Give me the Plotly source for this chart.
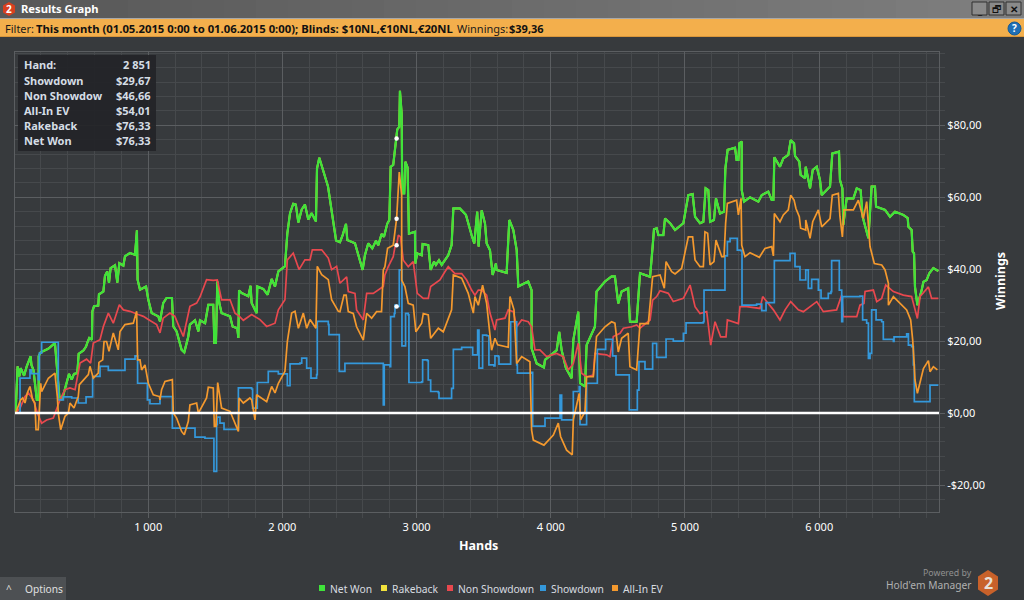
import plotly.graph_objects as go

# values: hands, dollars
net_won_hands = [12, 27, 40, 50, 75, 95, 124, 130, 145, 160, 170, 184, 184, 199, 256, 305, 318, 338, 358, 380, 410, 430, 447, 472, 482, 517, 537, 546, 561, 581, 584, 596, 628, 633, 666, 678, 695, 708, 720, 753, 770, 785, 815, 827, 864, 902, 916, 921, 939, 984, 1001, 1026, 1075, 1088, 1112, 1137, 1177, 1187, 1212, 1249, 1269, 1299, 1311, 1349, 1374, 1386, 1424, 1448, 1485, 1493, 1505, 1515, 1530, 1547, 1610, 1629, 1664, 1672, 1677, 1696, 1746, 1763, 1771, 1808, 1813, 1858, 1890, 1920, 1945, 1970, 2019, 2037, 2057, 2081, 2100, 2119, 2144, 2168, 2193, 2218, 2250, 2258, 2275, 2340, 2355, 2400, 2429, 2449, 2474, 2484, 2541, 2566, 2598, 2615, 2640, 2670, 2697, 2715, 2739, 2757, 2782, 2797, 2807, 2826, 2839, 2851, 2856, 2871, 2876, 2889, 2893, 2908, 2916, 2933, 2943, 2988, 2990, 3005, 3038, 3045, 3087, 3105, 3130, 3144, 3167, 3187, 3236, 3261, 3274, 3323, 3368, 3410, 3430, 3452, 3462, 3485, 3510, 3522, 3547, 3567, 3591, 3596, 3671, 3691, 3721, 3746, 3758, 3832, 3857, 3857, 3895, 3949, 3957, 4044, 4063, 4081, 4113, 4155, 4168, 4205, 4218, 4255, 4267, 4329, 4341, 4404, 4453, 4478, 4503, 4528, 4577, 4590, 4640, 4665, 4740, 4759, 4769, 4789, 4802, 4839, 4851, 4889, 4926, 4988, 5025, 5057, 5075, 5112, 5137, 5154, 5174, 5187, 5216, 5231, 5261, 5291, 5301, 5318, 5373, 5385, 5398, 5405, 5423, 5423, 5440, 5485, 5547, 5572, 5621, 5646, 5659, 5666, 5708, 5733, 5770, 5788, 5813, 5820, 5852, 5862, 5895, 5900, 5932, 5952, 5982, 6006, 6019, 6081, 6098, 6148, 6155, 6173, 6180, 6205, 6255, 6280, 6309, 6324, 6367, 6391, 6416, 6424, 6491, 6528, 6565, 6627, 6660, 6665, 6689, 6697, 6707, 6714, 6732, 6764, 6777, 6801, 6821, 6851, 6888]
net_won_usd = [0, 13, 10.2, 12.5, 10.4, 13, 15.8, 13.4, 12, 7.4, 3.7, 3.7, 15.8, 16.9, 17.9, 19.5, 13, 4.6, 3.7, 7, 10.9, 9.3, 10.9, 11.1, 16.5, 17.4, 18.5, 19.5, 20.9, 20.4, 28.3, 29.7, 29.9, 33, 33.8, 38.2, 39.4, 36.2, 40.3, 41.1, 36.3, 41.7, 41, 43.6, 44.5, 44, 50.8, 37.1, 34.3, 35.2, 31.5, 27.8, 26.9, 25.5, 30.6, 32, 32, 24.1, 22.7, 17.6, 16.9, 21.3, 24.6, 25.8, 22.7, 25.8, 25, 30.1, 30.1, 19.5, 19.5, 36.6, 30.6, 27.8, 26.9, 24.1, 23.6, 20.9, 34.1, 33.4, 32.5, 35.4, 30.6, 27.8, 35.2, 34.5, 32.9, 37.3, 35.2, 39.4, 40.8, 50, 55.6, 58.2, 58, 53, 56.6, 58, 53.8, 55.6, 53.3, 68, 71, 63, 59, 48, 47.5, 49.5, 52.6, 48.1, 47.2, 43.9, 39.8, 43.9, 47.2, 45.8, 47.9, 46.7, 49.8, 49, 52.7, 53.7, 68.5, 69, 73.1, 76.33, 78.9, 79.6, 89.6, 83.3, 61.1, 61.1, 69.9, 68.3, 49.9, 50.4, 41.6, 44.4, 43.9, 47, 46.7, 39.8, 42.1, 41.2, 42.5, 41.2, 43.9, 46.7, 56.9, 56.9, 55.1, 49.5, 47.2, 56, 46.3, 56.4, 52.7, 47.2, 45.3, 38.4, 41.6, 39.8, 39, 53.7, 50.9, 45.3, 35.2, 36.6, 34.2, 18, 13.8, 12.7, 14.8, 17.5, 22.6, 17.5, 12.5, 9.7, 20.3, 28.2, 8.3, 7.4, 18.9, 24, 33.8, 36.6, 38, 38, 30.5, 33.8, 34.7, 25.4, 25.4, 38.9, 37.9, 46.3, 51.1, 51.4, 49.5, 49.5, 54.1, 52.8, 50.9, 52.8, 60.6, 60.9, 54.6, 52.8, 53.2, 62.5, 62, 53.2, 53.7, 59.7, 55.5, 56, 68, 73.2, 73.8, 70.4, 70.4, 75, 75.5, 62, 58.8, 60, 58.8, 60.6, 61.6, 59.3, 59.3, 71.1, 68.5, 70.8, 71.8, 75.9, 75, 71.5, 69.9, 66.2, 65.3, 68.5, 62.5, 67.6, 68.5, 64.8, 60.6, 63, 72.2, 72.7, 64.8, 62.5, 52.3, 59.7, 59.7, 62.5, 62, 54.6, 48.6, 63, 63, 57.4, 56.5, 54.6, 56, 55.1, 54.2, 51.8, 50.9, 44.9, 44.4, 35.1, 30, 34.2, 36.5, 37, 38.9, 40.3, 39.5]

non_showdown_hands = [12, 45, 82, 107, 144, 174, 206, 243, 293, 330, 343, 380, 417, 455, 492, 541, 571, 591, 641, 666, 703, 740, 785, 815, 864, 926, 964, 1001, 1063, 1088, 1112, 1162, 1199, 1224, 1262, 1311, 1361, 1386, 1435, 1485, 1515, 1547, 1610, 1647, 1680, 1709, 1771, 1833, 1883, 1945, 1970, 2019, 2037, 2081, 2124, 2168, 2206, 2223, 2293, 2342, 2367, 2404, 2429, 2479, 2491, 2541, 2553, 2603, 2628, 2677, 2715, 2752, 2764, 2789, 2826, 2839, 2851, 2864, 2880, 2901, 2938, 2975, 2988, 3005, 3050, 3087, 3105, 3174, 3211, 3236, 3286, 3336, 3373, 3410, 3435, 3460, 3485, 3522, 3547, 3584, 3596, 3659, 3683, 3721, 3746, 3783, 3832, 3857, 3882, 3919, 3969, 4044, 4093, 4131, 4168, 4205, 4230, 4267, 4317, 4329, 4416, 4441, 4466, 4516, 4541, 4603, 4640, 4665, 4740, 4759, 4789, 4814, 4876, 4913, 4988, 5038, 5075, 5112, 5162, 5192, 5224, 5266, 5306, 5316, 5398, 5410, 5460, 5559, 5579, 5621, 5659, 5708, 5746, 5788, 5845, 5882, 5982, 6031, 6130, 6168, 6180, 6280, 6304, 6334, 6342, 6404, 6429, 6466, 6496, 6553, 6627, 6689, 6732, 6752, 6814, 6838, 6888]
non_showdown_usd = [0, 1.4, 4.6, 5.6, 3.7, 0, -2.8, -1.9, -1.4, 2.8, 3.7, 6.5, 7, 6.5, 13.9, 15, 13.9, 19.5, 20.4, 24.1, 27.8, 25, 30.1, 28.7, 28.3, 27.4, 26.9, 26, 24.6, 22.3, 26.4, 27.8, 26.9, 24.6, 21.3, 29.7, 30.6, 32.3, 37.1, 36.9, 37, 31.5, 31.5, 27.8, 26.9, 25.8, 27.4, 26, 24.1, 25, 28.7, 31.5, 42.6, 44.5, 39.9, 42.6, 42.6, 45.4, 45.4, 43.1, 39.9, 40.8, 36.1, 37.9, 33.8, 33.3, 28.7, 25.9, 33.3, 33.3, 34.2, 35.2, 38.4, 40.7, 43.5, 46.2, 46.66, 49.5, 49, 42.5, 40.7, 42.1, 38.4, 33.3, 31.9, 31.9, 35.2, 37, 39.3, 40.7, 38.8, 38.8, 37, 34.2, 32.8, 34.2, 34.2, 32.8, 27.8, 23.1, 25.9, 26.4, 28.7, 28.2, 24, 25.9, 25.4, 24, 17.6, 17.6, 15.7, 16.6, 15.7, 12, 13.8, 19.4, 11.1, 10.1, 10.6, 16.6, 16.2, 15.7, 21.3, 22.2, 23.6, 24, 24.5, 23.6, 25.9, 31.4, 32.4, 34, 33.3, 31, 31.9, 35.6, 29.6, 27.7, 28.2, 18.9, 25.4, 21.2, 21.2, 25.9, 24.9, 29.6, 29.6, 29.1, 32.4, 30.5, 28.7, 25.9, 28.7, 31, 28.7, 28.2, 31, 28.2, 28.7, 32.8, 26.8, 26.8, 30, 30.5, 33.8, 34.2, 31, 31.9, 35.6, 33.8, 32.8, 32.4, 26.3, 32.4, 35.1, 31.9, 31.9]

showdown_hands = [12, 42, 45, 119, 130, 181, 189, 206, 293, 325, 330, 368, 430, 479, 529, 537, 586, 586, 641, 703, 820, 827, 902, 910, 921, 990, 994, 1013, 1063, 1088, 1175, 1180, 1331, 1349, 1411, 1423, 1485, 1490, 1500, 1510, 1515, 1535, 1565, 1664, 1672, 1771, 1778, 1808, 1813, 1895, 1895, 1970, 2037, 2057, 2131, 2144, 2176, 2181, 2213, 2255, 2260, 2342, 2347, 2417, 2424, 2466, 2747, 2752, 2759, 2802, 2807, 2834, 2839, 2851, 2871, 2885, 2891, 2913, 2918, 2938, 2943, 3038, 3045, 3080, 3087, 3105, 3162, 3167, 3249, 3261, 3274, 3336, 3385, 3418, 3452, 3455, 3465, 3485, 3492, 3522, 3539, 3576, 3584, 3609, 3614, 3696, 3701, 3726, 3746, 3751, 3857, 3865, 3949, 3957, 4061, 4069, 4081, 4160, 4168, 4212, 4218, 4260, 4267, 4341, 4347, 4404, 4409, 4449, 4461, 4480, 4486, 4577, 4585, 4635, 4645, 4655, 4657, 4702, 4702, 4759, 4759, 4789, 4789, 4851, 4859, 4900, 4913, 4983, 4988, 5008, 5137, 5142, 5293, 5298, 5316, 5336, 5385, 5390, 5415, 5425, 5534, 5572, 5596, 5604, 5659, 5666, 5770, 5783, 5813, 5820, 5852, 5857, 5895, 5900, 5914, 5919, 5944, 5944, 5989, 5994, 6014, 6068, 6088, 6093, 6148, 6150, 6168, 6175, 6304, 6324, 6354, 6367, 6379, 6391, 6416, 6424, 6466, 6478, 6553, 6558, 6652, 6665, 6689, 6702, 6709, 6821, 6826, 6888]
showdown_usd = [0, 0, 9.7, 12, 11, 9.3, 16.7, 19.7, 19.7, 19.7, 3.7, 4.5, 4.2, 2.8, 2.8, 4.5, 4.6, 10.2, 13, 11.9, 11.9, 15, 15.9, 15.9, 8.3, 8.3, 3.7, 2.6, 2.6, 4.6, 4.6, -4.2, -4.2, -6.7, -6.7, -7, -7, -16.2, -16.2, -3.2, -1.1, -2.8, -4.5, -4.5, 7, 6.7, 1.4, 1.4, 8.5, 8.8, 11.6, 10.9, 7.6, 13.7, 13.9, 15.3, 15.3, 12.5, 9.7, 10.7, 25.5, 24.6, 21.8, 21.8, 11.6, 13.8, 13.8, 2.3, 13.4, 12.9, 26.8, 27.7, 30, 29.67, 39.8, 39.8, 18.7, 18.7, 27.7, 27.3, 8.5, 8.7, 14.8, 14.6, 9.2, 6, 5.7, 4.1, 4.1, 6.9, 17.7, 18.3, 18.3, 16.2, 16.2, 23.1, 12.5, 12.5, 21.7, 21.5, 13.4, 13.1, 15.9, 15.7, 13.6, 13.6, 25.4, 25.4, 13.4, 11.1, 11.3, -3.6, -3.6, -1.4, -1.4, 5, -1.9, -1.9, 6, 7.4, -3.2, -3.2, 8.3, 8.3, 17.7, 17.7, 20.5, 20.5, 15.9, 15.9, 10.6, 10.6, 0.9, 0.9, 6.4, 6.4, 14.3, 14.3, 12.2, 12.2, 19.4, 19.4, 15.5, 15.5, 20.6, 20.6, 20, 20, 22.2, 25.1, 25.4, 34.2, 34.2, 43.7, 47.7, 48.6, 48.6, 45.3, 45.2, 30, 30.3, 28.5, 28.5, 30.7, 30.7, 42.4, 42.4, 44.4, 44.4, 40.7, 40.7, 37, 37, 39.8, 39.8, 34.7, 34.7, 37.2, 37.2, 34.2, 31.9, 33.3, 33.8, 42.4, 42.4, 34.2, 25.4, 32.4, 32.5, 25.9, 25, 15.2, 16.6, 28.7, 28.7, 25.9, 25.4, 20.5, 19.9, 21.2, 22, 18.9, 18.5, 13.4, 3.2, 3.2, 7.8, 7.8]

all_in_hands = [12, 32, 50, 65, 82, 99, 119, 139, 156, 164, 181, 199, 206, 256, 305, 323, 330, 348, 380, 405, 417, 447, 479, 487, 554, 566, 591, 628, 633, 661, 671, 690, 708, 740, 777, 790, 827, 889, 914, 921, 939, 951, 976, 1001, 1038, 1083, 1088, 1100, 1125, 1180, 1187, 1212, 1249, 1269, 1299, 1311, 1361, 1374, 1435, 1448, 1485, 1493, 1505, 1518, 1547, 1610, 1647, 1672, 1677, 1709, 1758, 1771, 1796, 1808, 1883, 1920, 1945, 1970, 2019, 2037, 2069, 2094, 2119, 2156, 2181, 2206, 2250, 2260, 2293, 2342, 2367, 2417, 2429, 2459, 2475, 2491, 2528, 2553, 2603, 2628, 2665, 2702, 2739, 2752, 2764, 2784, 2826, 2851, 2871, 2889, 2889, 2913, 2938, 2975, 2995, 3038, 3050, 3087, 3105, 3162, 3199, 3261, 3274, 3336, 3385, 3423, 3435, 3460, 3492, 3522, 3559, 3584, 3604, 3683, 3696, 3726, 3746, 3783, 3845, 3857, 3870, 3919, 3949, 4019, 4056, 4073, 4118, 4160, 4168, 4212, 4222, 4255, 4267, 4317, 4341, 4404, 4453, 4478, 4503, 4528, 4577, 4590, 4640, 4665, 4727, 4759, 4814, 4846, 4859, 4901, 4926, 4975, 5025, 5057, 5075, 5112, 5137, 5149, 5169, 5187, 5216, 5231, 5274, 5291, 5303, 5316, 5385, 5398, 5418, 5423, 5447, 5485, 5554, 5596, 5646, 5659, 5666, 5708, 5733, 5770, 5788, 5813, 5827, 5852, 5862, 5900, 5900, 5932, 5952, 5994, 6019, 6081, 6098, 6143, 6155, 6173, 6185, 6255, 6292, 6329, 6354, 6379, 6411, 6466, 6491, 6516, 6516, 6553, 6603, 6652, 6682, 6697, 6707, 6714, 6732, 6752, 6777, 6814, 6826, 6851, 6881]
all_in_usd = [0, 1.9, 3.7, 4.2, 2.8, 5.6, 7.4, 3.7, 2.8, -4.6, -4.6, 8.3, 6, 9.7, 11.1, 4.6, 0, -4.6, -0.9, 0, 2.8, 1.4, 4.6, 7.9, 10.7, 13, 9.7, 11.1, 14.1, 14.8, 19.9, 19.9, 17.2, 22.3, 17.6, 22.7, 24.6, 25, 28.3, 14.8, 14.8, 12, 13.4, 8.3, 5.1, 4.6, 3.7, 6.5, 8.8, 9.3, 0, -1.4, -5.1, -6, -2.3, 2.3, 2.8, 0, 4.2, 7.2, 7, -3.7, -3.7, 8.5, 1.4, 0.5, -2.8, -5.1, 4.2, 2.8, 4.2, 3.7, -1.9, 5.1, 3.2, 7.4, 5.6, 8.3, 11.6, 19.9, 27.8, 28.3, 23.6, 27.8, 23.6, 26, 23.6, 40.8, 38.5, 37.1, 31.5, 28.3, 28.2, 32.8, 32.8, 28.2, 27.7, 24, 20.3, 27.7, 26.4, 28.2, 28.2, 39.8, 40.7, 45.8, 46.7, 54.01, 67, 60.6, 37, 35.2, 30.5, 30, 22.6, 25, 27.7, 27.3, 20.8, 23.6, 22.6, 28.7, 38.4, 37.5, 33.3, 27.8, 32.4, 30, 35.6, 30.5, 17.5, 20.8, 19, 18.3, 32.4, 28.7, 13.8, 15.7, 14.3, -4.7, -7.5, -8.4, -8.9, -6.1, -2.8, -6.5, -10.3, -11.6, -1.9, 5.5, -1.9, 0.4, 10.1, 10.1, 21.3, 24, 25.4, 25, 17, 20.8, 22.2, 12.9, 12, 24.9, 24.9, 37.9, 38.4, 34.7, 42.1, 39.3, 38.7, 40.2, 49, 49, 42.6, 40.7, 40.7, 50.4, 50, 41.2, 42.1, 48.1, 43.5, 43.5, 52.8, 58.3, 59.2, 55.1, 59.7, 46.7, 43.5, 44.6, 43.3, 45.8, 46.3, 43.7, 55.5, 53.2, 55.1, 56.5, 60.6, 59.2, 56.9, 54.6, 51.4, 50.9, 53.7, 48.6, 53.2, 56.5, 51.8, 54.1, 60.6, 61.1, 54.6, 49, 56.5, 56.5, 59.2, 54.1, 58.8, 46.3, 41.6, 41.2, 39.8, 36.1, 30, 32.4, 30.5, 28.7, 25.9, 20.3, 14.3, 9.2, 5.5, 8.3, 12.4, 14.6, 11.5, 12.9, 12]

# the hand under the cursor, values listed in the hover box
hover_hand = 2851
hover_labels = ["Showdown", "Non Showdow", "All-In EV", "Rakeback", "Net Won"]
hover_usd = [29.67, 46.66, 54.01, 76.33, 76.33]
hover_text = ["$29,67", "$46,66", "$54,01", "$76,33", "$76,33"]

x_ticks = [1000, 2000, 3000, 4000, 5000, 6000]
x_tick_labels = ["1 000", "2 000", "3 000", "4 000", "5 000", "6 000"]
y_ticks = [-20, 0, 20, 40, 60, 80]
y_tick_labels = ["-$20,00", "$0,00", "$20,00", "$40,00", "$60,00", "$80,00"]

legend_names = ["Net Won", "Rakeback", "Non Showdown", "Showdown", "All-In EV"]
legend_colors = ["#3fe33a", "#f2e23c", "#e8484e", "#3498db", "#f4992e"]
legend_left = [319, 381, 447, 540, 612]

BG = "#373a3d"
FONT = "Noto Sans"
W, H = 1024, 600
L, R, T, B = 15, 939, 52, 512


def px(x):
    return (x - L) / (R - L)


def py(y):
    return (B - y) / (B - T)


def rect(x0, y0, x1, y1, fill, line=None):
    return dict(type="rect", xref="paper", yref="paper", x0=px(x0), x1=px(x1), y0=py(y0), y1=py(y1),
                fillcolor=fill, line=dict(color=line or fill, width=1 if line else 0), layer="above")


def hexagon(cx, cy, rx, ry, fill):
    pts = [(cx, cy - ry), (cx + rx, cy - ry * 0.5), (cx + rx, cy + ry * 0.5),
           (cx, cy + ry), (cx - rx, cy + ry * 0.5), (cx - rx, cy - ry * 0.5)]
    path = "M" + " L".join(f"{px(a):.5f},{py(b):.5f}" for a, b in pts) + " Z"
    return dict(type="path", xref="paper", yref="paper", path=path, fillcolor=fill, line=dict(width=0), layer="above")


def label(x, y, text, size=11, color="#ffffff", anchor="left", angle=0):
    return dict(x=px(x), y=py(y), xref="paper", yref="paper", text=text, showarrow=False, xanchor=anchor,
                yanchor="middle", align=anchor, textangle=angle, borderpad=0,
                font=dict(size=size, color=color, family=FONT))


fig = go.Figure()
series = [
    ("Rakeback", net_won_hands, net_won_usd, legend_colors[1], 2, "linear"),
    ("Net Won", net_won_hands, net_won_usd, legend_colors[0], 2.2, "linear"),
    ("Non Showdown", non_showdown_hands, non_showdown_usd, legend_colors[2], 1.7, "linear"),
    ("Showdown", showdown_hands, showdown_usd, legend_colors[3], 1.7, "hv"),
    ("All-In EV", all_in_hands, all_in_usd, legend_colors[4], 1.7, "linear"),
]
for name, xs, ys, color, width, shape in series:
    fig.add_trace(go.Scatter(x=xs, y=ys, mode="lines", name=name, line=dict(color=color, width=width, shape=shape)))

fig.add_trace(go.Scatter(x=[hover_hand] * 4, y=hover_usd[:3] + hover_usd[4:], mode="markers",
                         marker=dict(color="#ffffff", size=4.5), showlegend=False))

# window chrome around the chart
shapes = []
for i in range(32):
    shade = 0x58 + i * 40 // 32
    c = f"rgb({shade},{shade},{shade})"
    shapes.append(rect(i * 32, 0, (i + 1) * 32, 18, c))
shapes.append(rect(0, 18, W, 19, "#a8a8a8"))
shapes.append(rect(0, 19, W, 36, "#f3af4c"))
shapes.append(rect(0, 36, W, 37, "#d9963a"))
shapes.append(hexagon(9, 9, 6, 7, "#d8401f"))
for left in [972, 989, 1006]:
    shapes.append(rect(left, 2, left + 15, 15, "#8a8a8a", "#303030"))
shapes.append(dict(type="circle", xref="paper", yref="paper", x0=px(1008), x1=px(1021), y0=py(22), y1=py(35),
                   fillcolor="#1f6fb5", line=dict(color="#155a96", width=1), layer="above"))
shapes.append(rect(18, 55, 156, 151, "rgba(35,36,39,0.92)"))
shapes.append(rect(0, 577, 66, 600, "#4d5053"))
shapes.append(hexagon(988, 583, 10, 13, "#c8612a"))
# zero line sits over the series
shapes.append(dict(type="line", xref="paper", yref="y", x0=0, x1=1, y0=0, y1=0, line=dict(color="#ffffff", width=2.5), layer="above"))

anns = [
    label(20, 9, "<b>Results Graph</b>", 11.2),
    label(9, 9, "<b>2</b>", 10, anchor="center"),
    label(4, 28, "Filter:", 11, "#1a1a1a"),
    label(35, 28, "<b>This month (01.05.2015 0:00 to 01.06.2015 0:00); Blinds: $10NL,€10NL,€20NL</b>", 11.3, "#111111"),
    label(456, 28, "Winnings:", 11, "#1a1a1a"),
    label(508, 28, "<b>$39,36</b>", 11, "#111111"),
    label(1014.5, 28, "<b>?</b>", 10, anchor="center"),
    label(979.5, 10, "<b>_</b>", 10, "#111111", "center"),
    label(996.5, 8.5, "🗗", 10, "#111111", "center"),
    label(1013.5, 8.5, "<b>✕</b>", 10, "#111111", "center"),
    label(23, 65, "<b>Hand:</b>", 11, "#d5dde5"),
    label(152, 65, f"<b>{hover_hand:,}</b>".replace(",", " "), 11, "#d5dde5", "right"),
    label(478, 545, "<b>Hands</b>", 12.5, anchor="center"),
    label(1000, 281, "<b>Winnings</b>", 12.5, anchor="center", angle=-90),
    label(5, 589, "^", 10, "#dddddd"),
    label(24, 589, "Options", 10.2, "#e0e0e0"),
    label(973, 573, "Powered by", 8.8, "#909090", "right"),
    label(973, 585, "Hold'em Manager", 10.2, "#b0b0b0", "right"),
    label(988, 583, "<b>2</b>", 16, "#e8e0d8", "center"),
]
for i, (name, value) in enumerate(zip(hover_labels, hover_text)):
    row = 80 + i * 15.2
    anns.append(label(23, row, f"<b>{name}</b>", 11, "#d5dde5"))
    anns.append(label(152, row, f"<b>{value}</b>", 11, "#d5dde5", "right"))
for name, color, left in zip(legend_names, legend_colors, legend_left):
    shapes.append(rect(left, 585, left + 6, 591, color))
    anns.append(label(left + 10, 588.5, name, 10.3, "#d8dce0"))

axis_common = dict(showline=True, linecolor="#5b5e61", linewidth=1, mirror=True, gridcolor="#5b5e61", gridwidth=1,
                   zeroline=False, ticks="outside", ticklen=5, tickcolor="#5b5e61",
                   tickfont=dict(size=11, color="#ffffff", family=FONT))

fig.update_layout(
    width=W, height=H,
    margin=dict(l=L, r=W - R, t=T, b=H - B, pad=0),
    paper_bgcolor=BG, plot_bgcolor=BG,
    showlegend=False,
    xaxis=dict(range=[7.5, 6893], tickmode="array", tickvals=x_ticks, ticktext=x_tick_labels,
               minor=dict(dtick=200, showgrid=True, gridcolor="#46494c", gridwidth=1, ticks="outside", ticklen=5, tickcolor="#46494c"),
               **axis_common),
    yaxis=dict(range=[-27.5, 100.4], side="right", tickmode="array", tickvals=y_ticks, ticktext=y_tick_labels,
               minor=dict(dtick=4, showgrid=True, gridcolor="#46494c", gridwidth=1, ticks="outside", ticklen=5, tickcolor="#46494c"),
               **axis_common),
    shapes=shapes,
    annotations=anns,
)

fig.write_html("out.html", config={"displayModeBar": False},
               post_script="document.body.style.margin='0';document.documentElement.style.background='#373a3d';")
